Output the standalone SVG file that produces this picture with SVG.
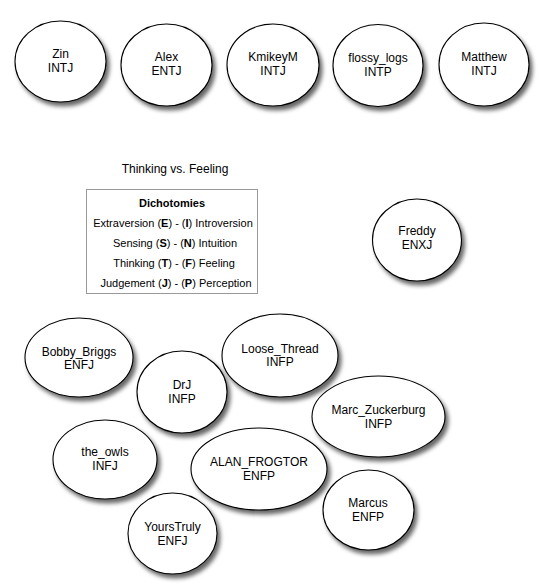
<svg xmlns="http://www.w3.org/2000/svg" width="538" height="587" viewBox="0 0 538 587">
<defs>
<filter id="sh" x="-30%" y="-30%" width="160%" height="160%">
<feDropShadow dx="3" dy="4" stdDeviation="2.2" flood-color="#000" flood-opacity="0.6"/>
</filter>
</defs>
<style>
.n ellipse{fill:#fff;stroke:#000;stroke-width:1.1;filter:url(#sh)}
.n text{font-family:"Liberation Sans",Arial,sans-serif;font-size:12px;fill:#000;text-anchor:middle}
.t{font-family:"Liberation Sans",Arial,sans-serif;fill:#000;text-anchor:middle}
.b{font-weight:bold}
</style>
<rect width="538" height="587" fill="#fff"/>
<g id="connectors"></g>
<g id="zin" class="n"><ellipse cx="60.5" cy="61.5" rx="45.5" ry="40.5"/><text x="60.5" y="57.5">Zin</text><text x="60.5" y="71.5">INTJ</text></g>
<g id="alex" class="n"><ellipse cx="166.5" cy="65" rx="45.5" ry="41"/><text x="166.5" y="61">Alex</text><text x="166.5" y="75">ENTJ</text></g>
<g id="kmikeym" class="n"><ellipse cx="273" cy="65" rx="46" ry="41"/><text x="273" y="61">KmikeyM</text><text x="273" y="75">INTJ</text></g>
<g id="flossy_logs" class="n"><ellipse cx="378" cy="65.5" rx="45" ry="41"/><text x="378" y="61.5">flossy_logs</text><text x="378" y="75.5">INTP</text></g>
<g id="matthew" class="n"><ellipse cx="484" cy="64.5" rx="45" ry="41.5"/><text x="484" y="60.5">Matthew</text><text x="484" y="74.5">INTJ</text></g>
<g id="legend">
<text class="t" x="175" y="173" font-size="12">Thinking vs. Feeling</text>
<rect x="86.5" y="189.5" width="171" height="104" fill="#fff" stroke="#999" stroke-width="1"/>
<text class="t b" x="172" y="207" font-size="11">Dichotomies</text>
<text class="t" x="173" y="227" font-size="11">Extraversion (<tspan class="b">E</tspan>) - (<tspan class="b">I</tspan>) Introversion</text>
<text class="t" x="175" y="247" font-size="11">Sensing (<tspan class="b">S</tspan>) - (<tspan class="b">N</tspan>) Intuition</text>
<text class="t" x="174" y="267" font-size="11">Thinking (<tspan class="b">T</tspan>) - (<tspan class="b">F</tspan>) Feeling</text>
<text class="t" x="176" y="287" font-size="11">Judgement (<tspan class="b">J</tspan>) - (<tspan class="b">P</tspan>) Perception</text>
</g>
<g id="freddy" class="n"><ellipse cx="417" cy="240" rx="44.5" ry="41"/><text x="417" y="235">Freddy</text><text x="417" y="248.5">ENXJ</text></g>
<g id="bobby_briggs" class="n"><ellipse cx="79" cy="357.5" rx="54" ry="39.5"/><text x="79" y="355.5">Bobby_Briggs</text><text x="79" y="369">ENFJ</text></g>
<g id="drj" class="n"><ellipse cx="182" cy="392" rx="45" ry="41"/><text x="182" y="389">DrJ</text><text x="182" y="403">INFP</text></g>
<g id="loose_thread" class="n"><ellipse cx="280" cy="355.5" rx="58" ry="41.5"/><text x="280" y="352.5">Loose_Thread</text><text x="280" y="366">INFP</text></g>
<g id="marc_zuckerburg" class="n"><ellipse cx="378.5" cy="416.5" rx="66.5" ry="40.5"/><text x="378.5" y="414">Marc_Zuckerburg</text><text x="378.5" y="427.5">INFP</text></g>
<g id="the_owls" class="n"><ellipse cx="105" cy="459.5" rx="52" ry="39.5"/><text x="105" y="456">the_owls</text><text x="105" y="469.5">INFJ</text></g>
<g id="alan_frogtor" class="n"><ellipse cx="259" cy="469" rx="68" ry="41"/><text x="259" y="466">ALAN_FROGTOR</text><text x="259" y="480">ENFP</text></g>
<g id="marcus" class="n"><ellipse cx="368.5" cy="510" rx="45.5" ry="40"/><text x="368" y="507">Marcus</text><text x="368" y="521">ENFP</text></g>
<g id="yourstruly" class="n"><ellipse cx="172.5" cy="533.5" rx="44.5" ry="40.5"/><text x="172.5" y="531">YoursTruly</text><text x="172.5" y="544.5">ENFJ</text></g>
</svg>
